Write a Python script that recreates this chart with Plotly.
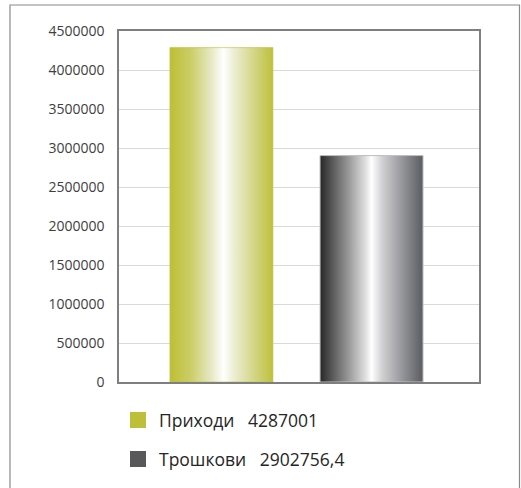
import plotly.graph_objects as go

# Data
categories = ["Приходи", "Трошкови"]
values = [4287001, 2902756.4]
value_labels = ["4287001", "2902756,4"]
y_ticks = list(range(0, 4500001, 500000))

# Styling
W, H = 521, 488
M_L, M_R, M_T, M_B = 119, 42, 31, 106
PLOT_W = W - M_L - M_R
PLOT_H = H - M_T - M_B

swatch_colors = ["#bcbf37", "#58585b"]
gradients = [
    [[0.0, "#bdbf35"], [0.2, "#cbcd66"], [0.4, "#e6e8c4"], [0.52, "#ffffff"],
     [0.62, "#eceed4"], [0.82, "#d3d585"], [1.0, "#bec03a"]],
    [[0.0, "#262626"], [0.07, "#454545"], [0.28, "#9a9a9a"], [0.44, "#dedede"],
     [0.5, "#ffffff"], [0.6, "#d2d2d4"], [0.84, "#898a8e"], [1.0, "#5b5c61"]],
]
outline_colors = ["rgba(190,192,60,0.6)", "rgba(190,190,190,1)"]

BAR_W = 0.572
centers = [0.569, 1.403]


def px_x(x):
    return (x - M_L) / PLOT_W


def px_y(y):
    return (H - M_B - y) / PLOT_H


fig = go.Figure()

for name, val, c, grad, oc in zip(categories, values, centers, gradients, outline_colors):
    x0, x1 = c - BAR_W / 2, c + BAR_W / 2
    fig.add_trace(go.Scatter(
        x=[x0, x0, x1, x1, x0],
        y=[0, val, val, 0, 0],
        mode="lines",
        fill="toself",
        fillgradient=dict(type="horizontal", colorscale=grad),
        line=dict(color=oc, width=1),
        name=name,
        showlegend=False,
        hoverinfo="name+y",
    ))

shapes = []
annotations = []

# outer frame around the whole chart
shapes.append(dict(
    type="rect", xref="paper", yref="paper",
    x0=px_x(10), x1=px_x(519.5), y0=px_y(497), y1=px_y(5),
    line=dict(color="#8a8a8a", width=1.2), fillcolor="rgba(0,0,0,0)", layer="below",
))

# legend: swatch + label with value
legend_rows = [420, 459]
for name, lab, col, yc in zip(categories, value_labels, swatch_colors, legend_rows):
    shapes.append(dict(
        type="rect", xref="paper", yref="paper",
        x0=px_x(130), x1=px_x(146), y0=px_y(yc + 8), y1=px_y(yc - 8),
        line=dict(width=0), fillcolor=col,
    ))
    annotations.append(dict(
        xref="paper", yref="paper", x=px_x(157), y=px_y(yc),
        xanchor="left", yanchor="middle", showarrow=False,
        text=f"{name}\u00a0\u00a0\u00a0{lab}",
        font=dict(family="Open Sans", size=17.5, color="#262626"),
    ))

fig.update_layout(
    width=W, height=H,
    margin=dict(l=M_L, r=M_R, t=M_T, b=M_B),
    paper_bgcolor="white", plot_bgcolor="white",
    showlegend=False,
    shapes=shapes,
    annotations=annotations,
    xaxis=dict(
        range=[0, 2], showticklabels=False, showgrid=False, zeroline=False,
        showline=True, mirror=True, linecolor="#7f7f7f", linewidth=1.5,
        ticks="", fixedrange=True,
    ),
    yaxis=dict(
        range=[0, 4500000], tickvals=y_ticks, ticktext=[str(v) for v in y_ticks],
        showgrid=True, gridcolor="#d9d9d9", gridwidth=1.2, zeroline=False,
        showline=True, mirror=True, linecolor="#7f7f7f", linewidth=1.5,
        ticks="outside", ticklen=10, tickcolor="rgba(0,0,0,0)",
        tickfont=dict(family="Open Sans", size=14, color="#404040"),
        fixedrange=True,
    ),
)

fig.write_html("out.html")
